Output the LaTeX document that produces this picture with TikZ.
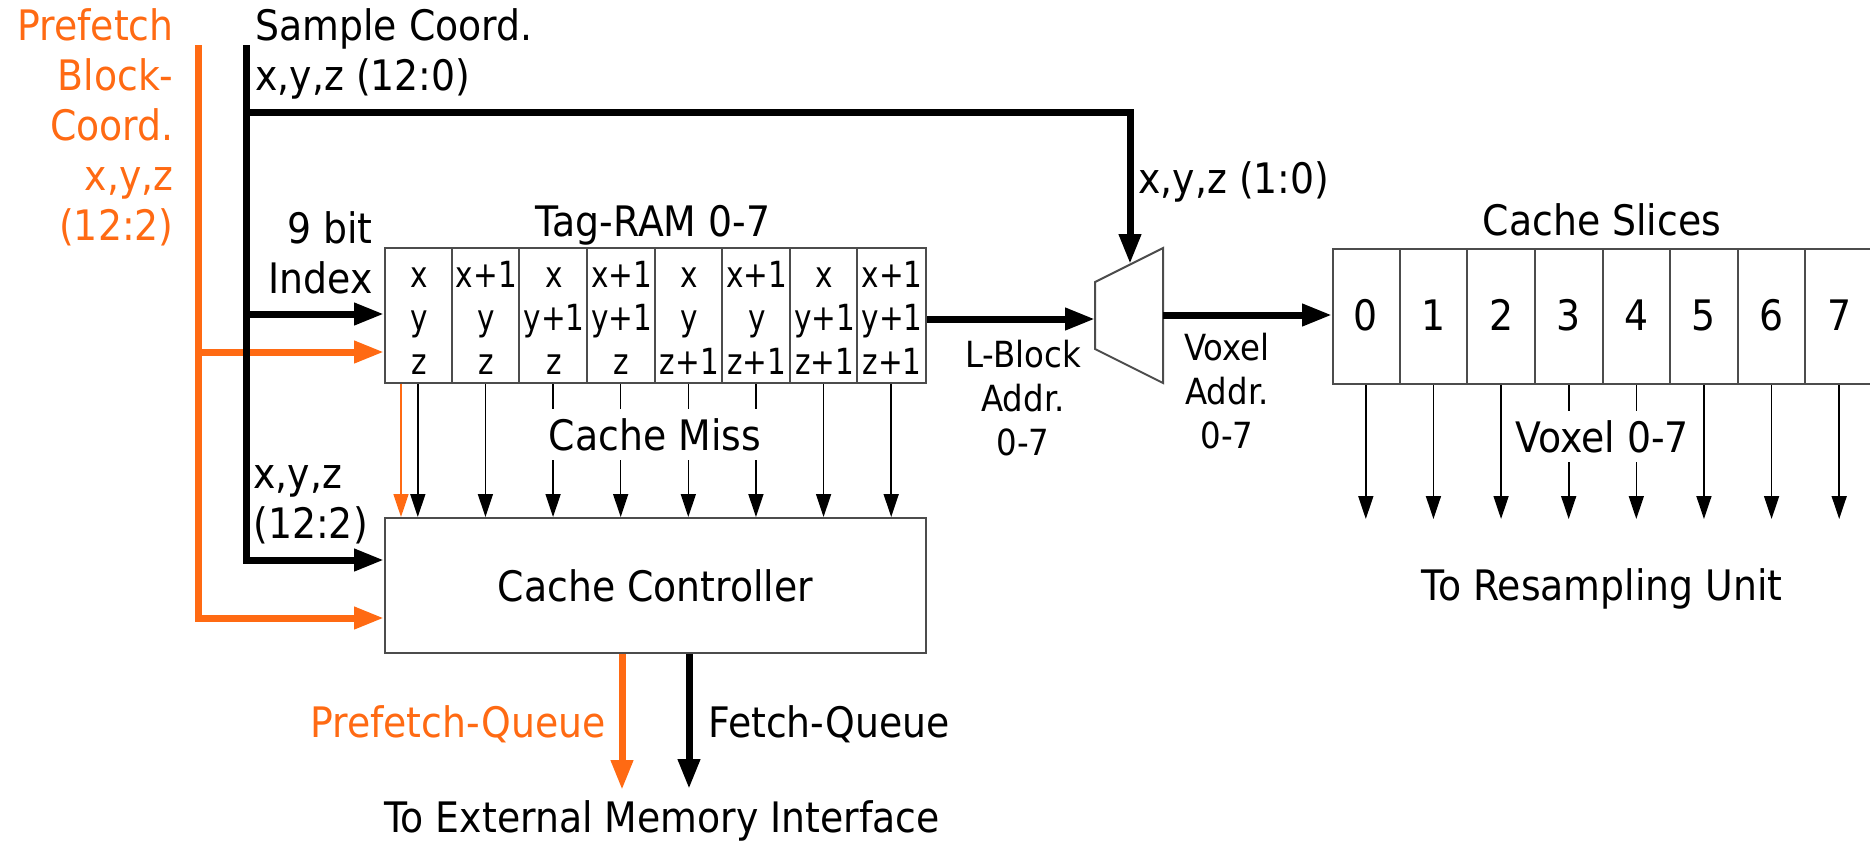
\documentclass[tikz,border=0pt]{standalone}
\usepackage{fontspec}
\setmainfont{DejaVu Sans}[FakeStretch=0.9]
\usetikzlibrary{arrows.meta}
\definecolor{prefetch}{HTML}{FF6A13}

\begin{document}
\begin{tikzpicture}[
    x=0.5pt, y=-0.5pt,
    lbl/.style={inner sep=0pt, font=\fontsize{21}{25}\selectfont},
    sml/.style={inner sep=0pt, align=center, font=\fontsize{18}{22}\selectfont},
    cell/.style={inner sep=0pt, anchor=base, font=\fontsize{18}{21}\selectfont\addfontfeatures{FakeStretch=0.82}},
    box/.style={draw=black!70, line width=1pt, fill=white, inner sep=0pt},
    divider/.style={draw=black!70, line width=1pt},
    bus/.style={line width=3.5pt, -{Triangle[length=15pt,width=10.5pt]}},
    pbus/.style={bus, draw=prefetch},
    wire/.style={line width=0.8pt, -{Triangle[length=11.5pt,width=7.5pt]}},
    pwire/.style={wire, draw=prefetch},
]
    \useasboundingbox (0,0) rectangle (1870,842);

    % Blocks
    \node[box, minimum width=270.5pt, minimum height=67.5pt] (tag) at (655.5,315.5) {};
    \node[box, minimum width=270.5pt, minimum height=67.5pt, lbl] (ctrl) at (655.5,585.5) {Cache Controller};
    \node[box, minimum width=270.5pt, minimum height=67.5pt, anchor=north west] (slices) at (1332,248) {};
    \draw[box] (1095,282) -- (1163,248) -- (1163,383) -- (1095,349) -- cycle;

    % Tag-RAM columns
    \foreach \i in {1,...,7}
        \draw[divider] ([xshift=\i*33.8125pt]tag.north west) -- ([xshift=\i*33.8125pt]tag.south west);
    \foreach \a/\b/\c [count=\i from 0] in {x/y/z, x+1/y/z, x/y+1/z, x+1/y+1/z, x/y/z+1, x+1/y/z+1, x/y+1/z+1, x+1/y+1/z+1} {
        \node[cell] (tx\i) at (418.8+\i*67.625, 287) {\a};
        \node[cell] (ty\i) at (418.8+\i*67.625, 330.5) {\b};
        \node[cell] (tz\i) at (418.8+\i*67.625, 374) {\c};
    }

    % Cache slices
    \foreach \i in {1,...,7}
        \draw[divider] ([xshift=\i*33.8125pt]slices.north west) -- ([xshift=\i*33.8125pt]slices.south west);
    \foreach \i in {0,...,7}
        \node[lbl] (s\i) at (1365.8+\i*67.625, 315) {\i};

    % Connection points
    \coordinate (prefTop) at (198,45);
    \coordinate (sampleTop) at (246,45);
    \coordinate (sampleBend) at (246,112);
    \coordinate (muxIn) at (1095,319);
    \coordinate (muxOut) at (1163,315);
    \coordinate (muxSel) at (1130,264);
    \coordinate (idxIn) at ([yshift=0.75pt]tag.west);
    \coordinate (idxPIn) at ([yshift=-18.25pt]tag.west);
    \coordinate (ctrlIn) at ([yshift=12.75pt]ctrl.west);
    \coordinate (ctrlPIn) at ([yshift=-16.25pt]ctrl.west);

    % Prefetch path
    \draw[pbus] (prefTop) |- (ctrlPIn);
    \draw[pbus] (prefTop |- idxPIn) -- (idxPIn);
    \draw[pwire] ([xshift=8.5pt]tag.south west) -- ([xshift=8.5pt]ctrl.north west);
    \draw[pbus] ([xshift=-16.75pt]ctrl.south) -- ++(0,136);

    % Sample coordinate path
    \draw[bus] (sampleTop) |- (ctrlIn);
    \draw[bus] (sampleTop |- idxIn) -- (idxIn);
    \draw[bus] (sampleBend) -| (muxSel);
    \draw[bus] (tag.east |- muxIn) -- (muxIn);
    \draw[bus] (muxOut) -- (slices.west |- muxOut);
    \draw[bus] ([xshift=16.75pt]ctrl.south) -- ++(0,135);

    % Miss lines and voxel outputs
    \foreach \i in {0,...,7} {
        \draw[wire] ([xshift={(\i+0.5)*33.8125pt}]tag.south west) -- ([xshift={(\i+0.5)*33.8125pt}]ctrl.north west);
        \draw[wire] ([xshift={(\i+0.5)*33.8125pt}]slices.south west) -- ++(0,134);
    }

    % Labels (multi-line ones sit on their last line)
    \node[lbl, text=prefetch, align=right, anchor=base east] (prefLbl) at (174,240) {Prefetch\\Block-\\Coord.\\x,y,z\\(12:2)};
    \node[lbl, align=left, anchor=base west] (sampleLbl) at (255,90) {Sample Coord.\\x,y,z (12:0)};
    \node[lbl, align=right, anchor=base east] (idxLbl) at (373,293) {9 bit\\Index};
    \node[lbl, align=left, anchor=base west] (blockLbl) at (253,538) {x,y,z\\(12:2)};
    \node[lbl, anchor=base] (tagLbl) at (653,236) {Tag-RAM 0-7};
    \node[lbl, anchor=base west] (lowLbl) at (1138,193) {x,y,z (1:0)};
    \node[sml, anchor=base] (lblockLbl) at (1023,455) {L-Block\\Addr.\\0-7};
    \node[sml, anchor=base] (voxAddrLbl) at (1227,448) {Voxel\\Addr.\\0-7};
    \node[lbl, anchor=base] (sliceLbl) at (1602,235) {Cache Slices};
    \node[lbl, anchor=base, fill=white, inner ysep=4.5pt, inner xsep=2pt] (missLbl) at (655,450) {Cache Miss};
    \node[lbl, anchor=base, fill=white, inner ysep=4.5pt, inner xsep=2pt] (voxLbl) at (1602,452) {Voxel 0-7};
    \node[lbl, anchor=base] (resLbl) at (1602,600) {To Resampling Unit};
    \node[lbl, anchor=base east, text=prefetch] (pqLbl) at (606,737) {Prefetch-Queue};
    \node[lbl, anchor=base west] (fqLbl) at (708,737) {Fetch-Queue};
    \node[lbl, anchor=base] (extLbl) at (662,832) {To External Memory Interface};
\end{tikzpicture}
\end{document}
